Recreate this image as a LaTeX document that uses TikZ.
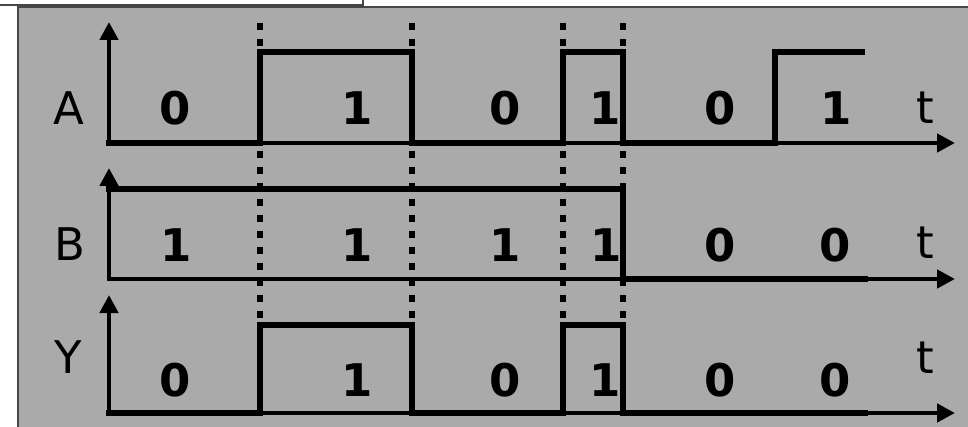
\documentclass[tikz,border=0pt]{standalone}
\usepackage{fontspec}
\setmainfont{DejaVu Sans}
\usetikzlibrary{arrows.meta}
\definecolor{bggray}{RGB}{170,170,170}
\definecolor{edgegray}{RGB}{70,70,70}
\begin{document}
\begin{tikzpicture}[x=1pt,y=-1pt,
  axis/.style={line width=4.5pt, line join=miter,
    arrows={Triangle[width=18pt,length=18pt]-Triangle[width=18pt,length=18pt]}},
  signal/.style={line width=6pt, line join=miter, line cap=rect},
  guide/.style={line width=6pt, dash pattern=on 7pt off 9pt},
  lbl/.style={font=\fontsize{45}{52}\selectfont, inner sep=0pt},
  bit/.style={font=\fontsize{45}{52}\selectfont\bfseries, inner sep=0pt}]
\useasboundingbox (0,0) rectangle (968,427);
\fill[white] (0,0) rectangle (968,427);
\draw[edgegray, line width=1.5pt] (0,5) -- (363,5) -- (363,0);
\filldraw[fill=bggray, draw=edgegray, line width=1.5pt] (18,7) rectangle (975,435);

% guides
\foreach \gx in {260,412,563,623}
  \draw[guide] (\gx,23) -- (\gx,318);

% axes
\draw[axis] (109,22) -- (109,143) -- (955,143);
\draw[axis] (109,168) -- (109,279) -- (955,279);
\draw[axis] (109,295) -- (109,413) -- (955,413);

% signals
\draw[signal] (109,143) -- (260,143) -- (260,52) -- (412,52) -- (412,143)
  -- (563,143) -- (563,52) -- (623,52) -- (623,143) -- (775,143)
  -- (775,52) -- (862,52);
\draw[signal] (109,189) -- (623,189) -- (623,279) -- (865,279);
\draw[signal] (109,413) -- (260,413) -- (260,325) -- (412,325) -- (412,413)
  -- (563,413) -- (563,325) -- (623,325) -- (623,413) -- (865,413);

% labels
\node[lbl] (la) at (69,108) {A};
\node[lbl] (lb) at (70,244) {B};
\node[lbl] (ly) at (68,357) {Y};
\node[lbl] (ta) at (925,108) {t};
\node[lbl] (tb) at (925,243) {t};
\node[lbl] (ty) at (925,358) {t};

% bits
\node[bit] (a1) at (175,108) {0};
\node[bit] (a2) at (357,108) {1};
\node[bit] (a3) at (505,108) {0};
\node[bit] (a4) at (605,108) {1};
\node[bit] (a5) at (720,108) {0};
\node[bit] (a6) at (836,108) {1};

\node[bit] (b1) at (176,245) {1};
\node[bit] (b2) at (357,245) {1};
\node[bit] (b3) at (505,245) {1};
\node[bit] (b4) at (606,245) {1};
\node[bit] (b5) at (720,245) {0};
\node[bit] (b6) at (835,245) {0};

\node[bit] (y1) at (175,380) {0};
\node[bit] (y2) at (357,380) {1};
\node[bit] (y3) at (505,380) {0};
\node[bit] (y4) at (605,380) {1};
\node[bit] (y5) at (720,380) {0};
\node[bit] (y6) at (835,380) {0};
\end{tikzpicture}
\end{document}
